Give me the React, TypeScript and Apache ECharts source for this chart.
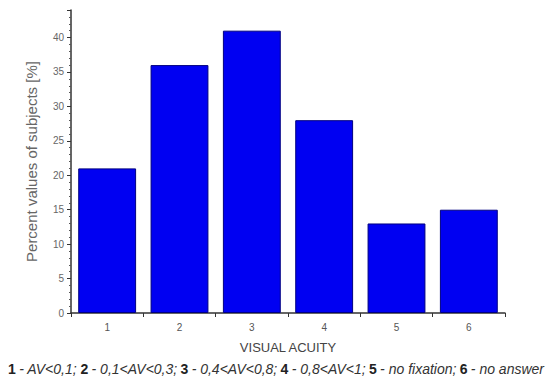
import React, { useEffect, useRef } from "react";
import * as echarts from "echarts";

const categories = ["1", "2", "3", "4", "5", "6"];
const values = [21, 36, 41, 28, 13, 15];
const yTicks = [0, 5, 10, 15, 20, 25, 30, 35, 40];

export default function App() {
  const ref = useRef<HTMLDivElement>(null);
  useEffect(() => {
    const chart = echarts.init(ref.current!, null, { renderer: "svg" });
    const font = "'Liberation Sans', Arial, sans-serif";
    chart.setOption({
      animation: false,
      backgroundColor: "#ffffff",
      grid: { left: 71, right: 47, top: 10, bottom: 69 },
      xAxis: {
        type: "category",
        data: categories,
        boundaryGap: true,
        axisLine: { lineStyle: { color: "#333", width: 1.5 } },
        axisTick: { show: true, alignWithLabel: false, length: 4, lineStyle: { color: "#333" } },
        axisLabel: { color: "#555", fontSize: 10, fontFamily: font, margin: 9 },
        name: "VISUAL ACUITY",
        nameLocation: "middle",
        nameGap: 28,
        nameTextStyle: { color: "#444", fontSize: 13, fontFamily: font },
      },
      yAxis: {
        type: "value",
        min: 0,
        max: 44,
        interval: 5,
        splitLine: { show: false },
        axisLine: { show: true, lineStyle: { color: "#333", width: 1.5 } },
        axisTick: { show: true, length: 4, lineStyle: { color: "#333" } },
        minorTick: { show: true, splitNumber: 5, length: 2, lineStyle: { color: "#555" } },
        axisLabel: {
          color: "#666",
          fontSize: 10,
          fontFamily: font,
          margin: 7,
          formatter: (v: number) => (yTicks.includes(v) ? String(v) : ""),
        },
        name: "Percent values of subjects [%]",
        nameLocation: "middle",
        nameGap: 32,
        nameRotate: 90,
        nameTextStyle: { color: "#666", fontSize: 15, fontFamily: font },
      },
      series: [
        {
          type: "bar",
          data: values,
          barCategoryGap: "20%",
          itemStyle: { color: "#0000f2", borderColor: "#000080", borderWidth: 1 },
        },
      ],
      graphic: [
        {
          type: "text",
          left: "center",
          top: 362,
          style: {
            text:
              "{b|1} {i|- AV<0,1;} {b|2} {i|- 0,1<AV<0,3;} {b|3} {i|- 0,4<AV<0,8;} {b|4} {i|- 0,8<AV<1;} {b|5} {i|- no fixation;} {b|6} {i|- no answer}",
            rich: {
              b: { fontWeight: "bold", fontSize: 14, fontFamily: font, fill: "#222" },
              i: { fontStyle: "italic", fontSize: 14, fontFamily: font, fill: "#333" },
            },
          },
        },
      ],
    });
    return () => chart.dispose();
  }, []);
  return <div ref={ref} style={{ width: 552, height: 382, position: "absolute", left: 0, top: 0 }} />;
}
